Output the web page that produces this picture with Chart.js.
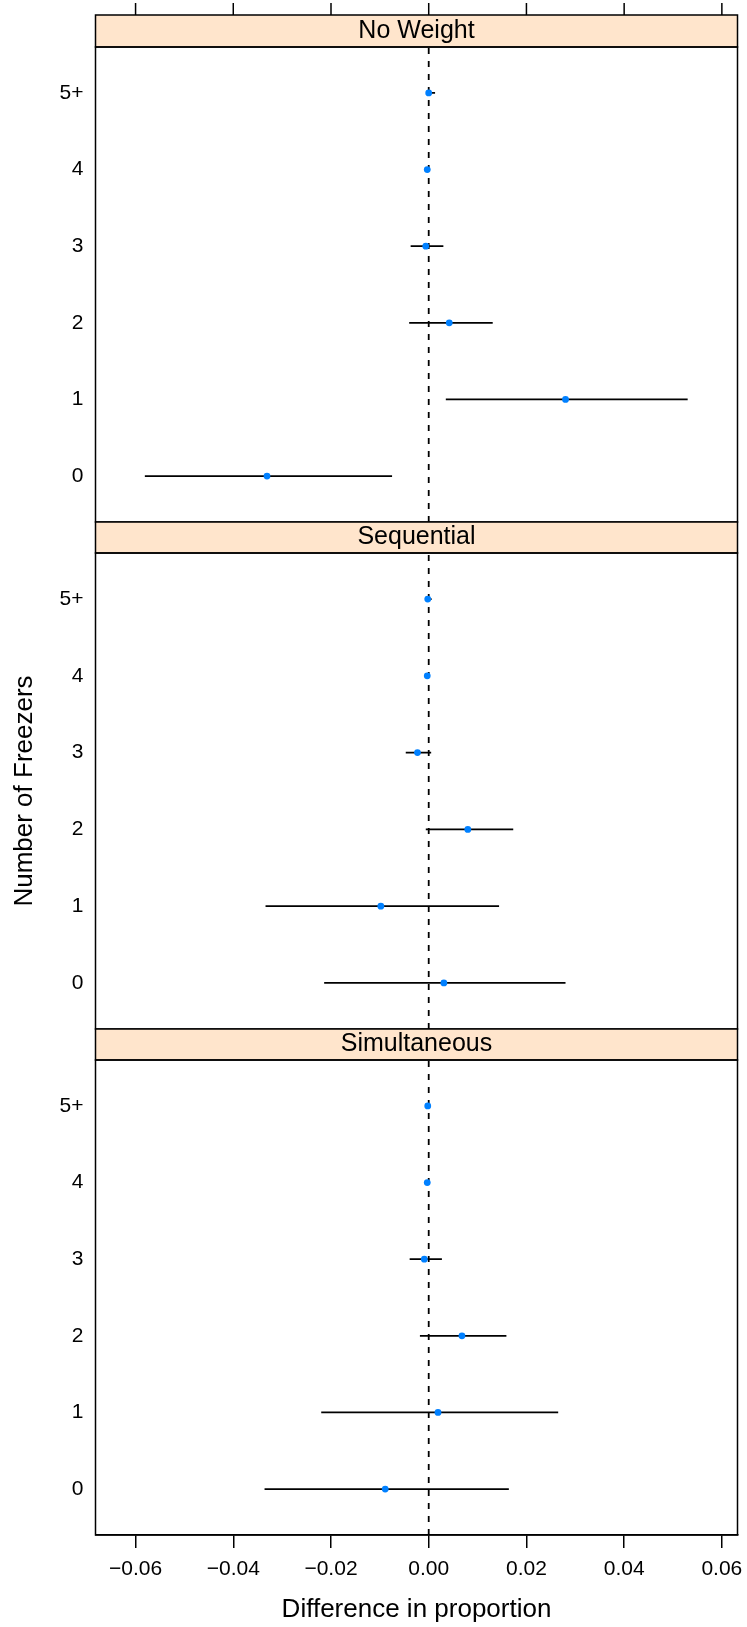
<!DOCTYPE html>
<html>
<head>
<meta charset="utf-8">
<script src="https://cdn.jsdelivr.net/npm/chart.js@4.4.1/dist/chart.umd.min.js"></script>
<style>
  html, body { margin: 0; padding: 0; background: #fff; }
  #wrap { position: relative; width: 747px; height: 1627px; }
  #wrap canvas { position: absolute; left: 0; top: 0; }
</style>
</head>
<body>
<div id="wrap">
  <canvas id="p1" width="747" height="1627"></canvas>
  <canvas id="p2" width="747" height="1627"></canvas>
  <canvas id="p3" width="747" height="1627"></canvas>
</div>
<script>
// Rows (bottom to top) and tick values
const rowLabels = ["0", "1", "2", "3", "4", "5+"];
const xTicks = [-0.06, -0.04, -0.02, 0, 0.02, 0.04, 0.06];
const xMin = -0.0682, xMax = 0.0632;
const yMin = -0.6, yMax = 5.6;

// No Weight
const noWeightEst = [-0.0331, 0.0280, 0.0042, -0.0006, -0.0003, 0.0000];
const noWeightLo  = [-0.0581, 0.0035, -0.0040, -0.0037, -0.0004, -0.0003];
const noWeightHi  = [-0.0075, 0.0530, 0.0131, 0.0030, -0.0002, 0.0013];

// Sequential
const sequentialEst = [0.0031, -0.0098, 0.0080, -0.0023, -0.0003, -0.0002];
const sequentialLo  = [-0.0214, -0.0334, -0.0006, -0.0047, -0.0004, -0.0004];
const sequentialHi  = [0.0280, 0.0144, 0.0173, 0.0005, -0.0002, 0.0006];

// Simultaneous
const simultaneousEst = [-0.0089, 0.0019, 0.0068, -0.0009, -0.0003, -0.0002];
const simultaneousLo  = [-0.0336, -0.0220, -0.0018, -0.0039, -0.0004, -0.0003];
const simultaneousHi  = [0.0164, 0.0265, 0.0159, 0.0027, -0.0002, -0.0001];

const FONT = '"Liberation Sans", Arial, Helvetica, sans-serif';
Chart.defaults.font.family = FONT;
Chart.defaults.color = "#000";

const fmt = v => (v < 0 ? "\u2212" : "") + Math.abs(v).toFixed(2);

// strip, panel box and (optional) top ticks
function decor(name, stripTop, topTicks) {
  return {
    id: "decor",
    afterDatasetsDraw(chart) {
      const ctx = chart.ctx;
      const a = chart.chartArea;
      ctx.save();
      ctx.fillStyle = "#ffe5cc";
      ctx.fillRect(a.left, stripTop, a.right - a.left, a.top - stripTop);
      ctx.lineWidth = 1.5;
      ctx.strokeStyle = "#000";
      ctx.strokeRect(a.left, stripTop, a.right - a.left, a.top - stripTop);
      ctx.strokeRect(a.left, a.top, a.right - a.left, a.bottom - a.top);
      ctx.fillStyle = "#000";
      ctx.font = "25px " + FONT;
      ctx.textAlign = "center";
      ctx.textBaseline = "middle";
      ctx.fillText(name, (a.left + a.right) / 2, (stripTop + a.top) / 2);
      if (topTicks) {
        const xs = chart.scales.x;
        xTicks.forEach(v => {
          const px = xs.getPixelForValue(v);
          ctx.beginPath();
          ctx.moveTo(px, stripTop);
          ctx.lineTo(px, stripTop - 12);
          ctx.stroke();
        });
      }
      ctx.restore();
    }
  };
}

function makePanel(id, name, est, lo, hi, box) {
  const datasets = [{
    data: est.map((v, i) => ({ x: v, y: i })),
    pointRadius: 3.4,
    pointBackgroundColor: "#0080ff",
    pointBorderWidth: 0,
    showLine: false
  }];
  rowLabels.forEach((_, i) => {
    datasets.push({
      data: [{ x: lo[i], y: i }, { x: hi[i], y: i }],
      showLine: true,
      borderColor: "#000",
      borderWidth: 1.8,
      pointRadius: 0
    });
  });
  // reference line at zero
  datasets.push({
    data: [{ x: 0, y: yMin }, { x: 0, y: yMax }],
    showLine: true,
    borderColor: "#000",
    borderWidth: 1.8,
    borderDash: [6, 7],
    pointRadius: 0
  });

  const isBottom = box.xAxis;

  return new Chart(document.getElementById(id), {
    type: "scatter",
    data: { datasets },
    options: {
      responsive: false,
      animation: false,
      events: [],
      layout: { padding: { top: box.top, bottom: isBottom ? 0 : 1627 - box.bottom, left: 0, right: 9.5 } },
      plugins: { legend: { display: false }, tooltip: { enabled: false } },
      scales: {
        x: {
          type: "linear",
          min: xMin,
          max: xMax,
          display: isBottom,
          afterBuildTicks: s => { s.ticks = xTicks.map(v => ({ value: v })); },
          afterFit: s => {
            if (isBottom) s.height = 1627 - box.bottom;
            s.paddingLeft = 0;
            s.paddingRight = 0;
          },
          grid: { display: true, drawOnChartArea: false, drawTicks: true, tickLength: 13, color: "#000", lineWidth: 1.5 },
          border: { display: true, color: "#000", width: 1.5 },
          ticks: { font: { size: 21 }, padding: 9, maxRotation: 0, callback: v => fmt(v) },
          title: { display: true, text: "Difference in proportion", font: { size: 26 }, padding: { top: 0, bottom: 2 } }
        },
        y: {
          type: "linear",
          min: yMin,
          max: yMax,
          afterBuildTicks: s => { s.ticks = rowLabels.map((_, i) => ({ value: i })); },
          afterFit: s => { s.width = 95.5; s.paddingTop = 0; s.paddingBottom = 0; },
          grid: { display: false, drawTicks: false },
          border: { display: false },
          ticks: { font: { size: 21 }, padding: 12, callback: v => rowLabels[v] },
          title: { display: box.yTitle, text: "Number of Freezers", font: { size: 26 }, padding: { top: 9, bottom: 0 } }
        }
      }
    },
    plugins: [decor(name, box.strip, box.topTicks)]
  });
}

makePanel("p1", "No Weight", noWeightEst, noWeightLo, noWeightHi,
  { strip: 15, top: 47, bottom: 522, topTicks: true, xAxis: false, yTitle: false });
makePanel("p2", "Sequential", sequentialEst, sequentialLo, sequentialHi,
  { strip: 522, top: 553, bottom: 1029, topTicks: false, xAxis: false, yTitle: true });
makePanel("p3", "Simultaneous", simultaneousEst, simultaneousLo, simultaneousHi,
  { strip: 1029, top: 1060, bottom: 1535, topTicks: false, xAxis: true, yTitle: false });
</script>
</body>
</html>
